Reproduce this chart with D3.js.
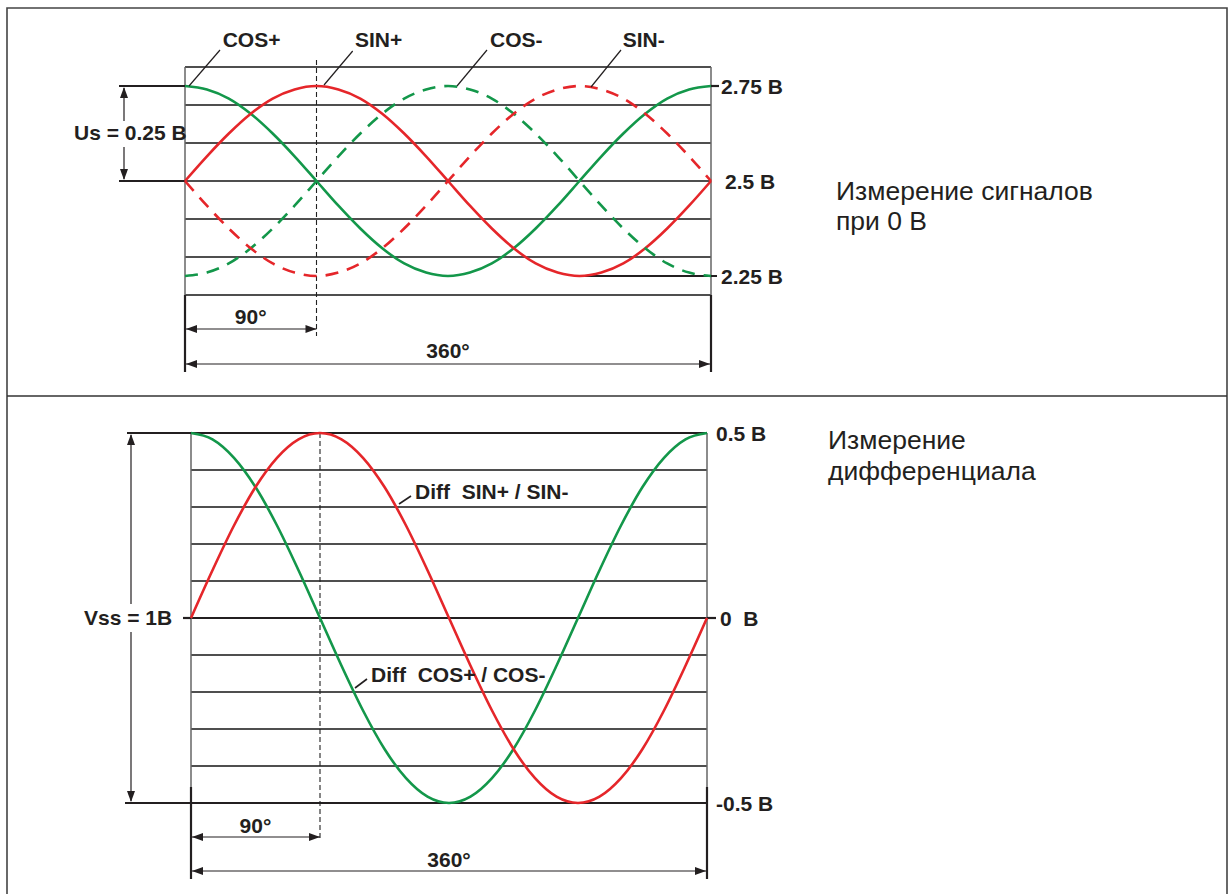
<!DOCTYPE html>
<html>
<head>
<meta charset="utf-8">
<script src="https://cdn.jsdelivr.net/npm/d3@7"></script>
<style>
  html, body { margin: 0; padding: 0; background: #fff; }
  svg { display: block; }
  .lbl { font-family: "Liberation Sans", Arial, sans-serif; font-weight: bold; font-size: 21px; fill: #231f20; white-space: pre; }
  .note { font-family: "Liberation Sans", Arial, sans-serif; font-size: 26.5px; fill: #231f20; }
</style>
</head>
<body>
<script>
// Phase angles (degrees) at which the signals are sampled
const angles = [0, 15, 30, 45, 60, 75, 90, 105, 120, 135, 150, 165, 180,
                195, 210, 225, 240, 255, 270, 285, 300, 315, 330, 345, 360];

// Single-ended encoder signals, volts
const cosPlus  = [2.75, 2.741, 2.717, 2.677, 2.625, 2.565, 2.5, 2.435, 2.375, 2.323, 2.283, 2.259, 2.25,
                  2.259, 2.283, 2.323, 2.375, 2.435, 2.5, 2.565, 2.625, 2.677, 2.717, 2.741, 2.75];
const sinPlus  = [2.5, 2.565, 2.625, 2.677, 2.717, 2.741, 2.75, 2.741, 2.717, 2.677, 2.625, 2.565, 2.5,
                  2.435, 2.375, 2.323, 2.283, 2.259, 2.25, 2.259, 2.283, 2.323, 2.375, 2.435, 2.5];
const cosMinus = [2.25, 2.259, 2.283, 2.323, 2.375, 2.435, 2.5, 2.565, 2.625, 2.677, 2.717, 2.741, 2.75,
                  2.741, 2.717, 2.677, 2.625, 2.565, 2.5, 2.435, 2.375, 2.323, 2.283, 2.259, 2.25];
const sinMinus = [2.5, 2.435, 2.375, 2.323, 2.283, 2.259, 2.25, 2.259, 2.283, 2.323, 2.375, 2.435, 2.5,
                  2.565, 2.625, 2.677, 2.717, 2.741, 2.75, 2.741, 2.717, 2.677, 2.625, 2.565, 2.5];

// Differential signals, volts
const diffCos = [0.5, 0.483, 0.433, 0.354, 0.25, 0.129, 0, -0.129, -0.25, -0.354, -0.433, -0.483, -0.5,
                 -0.483, -0.433, -0.354, -0.25, -0.129, 0, 0.129, 0.25, 0.354, 0.433, 0.483, 0.5];
const diffSin = [0, 0.129, 0.25, 0.354, 0.433, 0.483, 0.5, 0.483, 0.433, 0.354, 0.25, 0.129, 0,
                 -0.129, -0.25, -0.354, -0.433, -0.483, -0.5, -0.483, -0.433, -0.354, -0.25, -0.129, 0];

// Grid levels and value labels
const topGrid = [2.2, 2.3, 2.4, 2.5, 2.6, 2.7, 2.8];
const topTicks = [{v: 2.75, t: "2.75 B"}, {v: 2.5, t: "2.5 B"}, {v: 2.25, t: "2.25 B"}];
const botGrid = [-0.5, -0.4, -0.3, -0.2, -0.1, 0, 0.1, 0.2, 0.3, 0.4, 0.5];
const botTicks = [{v: 0.5, t: "0.5 B"}, {v: 0, t: "0  B"}, {v: -0.5, t: "-0.5 B"}];
const topNames = ["COS+", "SIN+", "COS-", "SIN-"];
const botNames = ["Diff  SIN+ / SIN-", "Diff  COS+ / COS-"];

const GREEN = "#13974a", RED = "#e5262a", INK = "#231f20";

const svg = d3.select("body").append("svg").attr("width", 1229).attr("height", 894);

// outer frame and divider
svg.append("path").attr("d", "M7,894 V8 H1227 V894").attr("fill", "none")
  .attr("stroke", "#444").attr("stroke-width", 1.6);
svg.append("line").attr("x1", 7).attr("x2", 1227).attr("y1", 396).attr("y2", 396)
  .attr("stroke", "#333").attr("stroke-width", 1.4);

function arrowHead(g, x, y, dir) {
  // tip at (x,y), pointing in direction dir
  const L = 11, W = 4;
  let p;
  if (dir === "r") p = [[x, y], [x - L, y - W], [x - L, y + W]];
  if (dir === "l") p = [[x, y], [x + L, y - W], [x + L, y + W]];
  if (dir === "u") p = [[x, y], [x - W, y + L], [x + W, y + L]];
  if (dir === "d") p = [[x, y], [x - W, y - L], [x + W, y - L]];
  g.append("path").attr("d", "M" + p.map(d => d.join(",")).join("L") + "Z").attr("fill", INK);
}
function hArrow(g, x0, x1, y) {
  g.append("line").attr("x1", x0).attr("x2", x1).attr("y1", y).attr("y2", y)
    .attr("stroke", INK).attr("stroke-width", 1.2);
  arrowHead(g, x0, y, "l"); arrowHead(g, x1, y, "r");
}
function line(g, x1, y1, x2, y2, w, c, dash) {
  const l = g.append("line").attr("x1", x1).attr("y1", y1).attr("x2", x2).attr("y2", y2)
    .attr("stroke", c || INK).attr("stroke-width", w);
  if (dash) l.attr("stroke-dasharray", dash);
  return l;
}

// ---------------- top panel: single-ended signals ----------------
{
  const g = svg.append("g");
  const x = d3.scaleLinear().domain([0, 360]).range([185, 711]);
  const y = d3.scaleLinear().domain([2.2, 2.8]).range([295, 67]);

  topGrid.forEach(v => line(g, x(0), y(v), x(360), y(v), v === 2.5 ? 1.7 : 1.4, "#151515"));
  line(g, x(0), y(2.8), x(0), y(2.2), 1.5, "#666");
  line(g, x(360), y(2.8), x(360), y(2.2), 1.5, "#666");

  // extension lines below the grid
  line(g, x(0), y(2.2), x(0), 372, 2.2);
  line(g, x(360), y(2.2), x(360), 372, 2.2);

  // reference levels
  line(g, 119, y(2.75), x(0), y(2.75), 2.2);
  line(g, 119, y(2.5), x(0), y(2.5), 2.2);
  line(g, x(360), y(2.75), x(360) + 8, y(2.75), 2.2);
  line(g, x(270), y(2.25), x(360) + 6, y(2.25), 2.2);

  // 90° marker
  line(g, x(90), 60, x(90), 336, 1.1, "#222", "5,3");

  const lineGen = vals => d3.line().x((d, i) => x(angles[i])).y(d => y(d)).curve(d3.curveMonotoneX)(vals);
  const series = [
    {v: cosPlus, c: GREEN, dash: null},
    {v: sinPlus, c: RED, dash: null},
    {v: cosMinus, c: GREEN, dash: "13,9"},
    {v: sinMinus, c: RED, dash: "13,9"}
  ];
  series.forEach(s => {
    const p = g.append("path").attr("d", lineGen(s.v)).attr("fill", "none")
      .attr("stroke", s.c).attr("stroke-width", 2.6);
    if (s.dash) p.attr("stroke-dasharray", s.dash);
  });

  // Us arrow
  const ax = 124;
  line(g, ax, y(2.75) + 2, ax, 121, 1.2);
  line(g, ax, 147, ax, y(2.5) - 2, 1.2);
  arrowHead(g, ax, y(2.75) + 1, "u");
  arrowHead(g, ax, y(2.5) - 1, "d");
  g.append("text").attr("class", "lbl").attr("x", 74).attr("y", 140).text("Us = 0.25 B");

  // series labels with leaders
  const leaders = [[189, 86, 220, 50, 222.7], [324, 85, 352.7, 51, 355], [457, 86, 487, 50, 490], [591, 87, 621, 50, 622.7]];
  leaders.forEach((d, i) => {
    line(g, d[0], d[1], d[2], d[3], 1.2);
    g.append("text").attr("class", "lbl").attr("x", d[4]).attr("y", 47).text(topNames[i]);
  });

  // value labels
  topTicks.forEach(t => {
    g.append("text").attr("class", "lbl").attr("x", t.v === 2.5 ? 725 : 721).attr("y", y(t.v) + 7.5).text(t.t);
  });

  // angle spans
  hArrow(g, x(0) + 1, x(90), 329);
  g.append("text").attr("class", "lbl").attr("x", (x(0) + x(90)) / 2).attr("y", 324)
    .attr("text-anchor", "middle").text("90°");
  hArrow(g, x(0) + 1, x(360) - 1, 364);
  g.append("text").attr("class", "lbl").attr("x", x(180)).attr("y", 358)
    .attr("text-anchor", "middle").text("360°");

  g.append("text").attr("class", "note").attr("x", 836).attr("y", 200).text("Измерение сигналов");
  g.append("text").attr("class", "note").attr("x", 836).attr("y", 230).text("при 0 В");
}

// ---------------- bottom panel: differential signals ----------------
{
  const g = svg.append("g");
  const x = d3.scaleLinear().domain([0, 360]).range([191, 707]);
  const y = d3.scaleLinear().domain([-0.5, 0.5]).range([803, 433]);

  botGrid.forEach(v => {
    const edge = (v === 0.5 || v === -0.5 || v === 0);
    line(g, x(0), y(v), x(360), y(v), edge ? 2 : 1.4, edge ? INK : "#151515");
  });
  line(g, x(0), y(0.5), x(0), y(-0.5), 1.5, "#666");
  line(g, x(360), y(0.5), x(360), y(-0.5), 1.5, "#666");

  line(g, x(0), 787, x(0), 879, 2.2);
  line(g, x(360), 787, x(360), 879, 2.2);

  line(g, 127, y(0.5), x(0), y(0.5), 2.2);
  line(g, 183, y(0), x(0), y(0), 2.2);
  line(g, 125, y(-0.5), x(0), y(-0.5), 2.2);
  line(g, x(360), y(0), x(360) + 9, y(0), 2.2);

  line(g, x(90), y(0.5), x(90), 840, 1.1, "#222", "5,3");

  const lineGen = vals => d3.line().x((d, i) => x(angles[i])).y(d => y(d)).curve(d3.curveMonotoneX)(vals);
  g.append("path").attr("d", lineGen(diffCos)).attr("fill", "none").attr("stroke", GREEN).attr("stroke-width", 2.6);
  g.append("path").attr("d", lineGen(diffSin)).attr("fill", "none").attr("stroke", RED).attr("stroke-width", 2.6);

  // Vss arrow
  const ax = 131;
  line(g, ax, y(0.5) + 2, ax, 604, 1.2);
  line(g, ax, 632, ax, y(-0.5) - 2, 1.2);
  arrowHead(g, ax, y(0.5) + 1, "u");
  arrowHead(g, ax, y(-0.5) - 1, "d");
  g.append("text").attr("class", "lbl").attr("x", 84).attr("y", 625).text("Vss = 1B");

  // curve labels
  line(g, 399, 504, 411, 496, 1.6);
  g.append("text").attr("class", "lbl").attr("x", 415).attr("y", 498.5).text(botNames[0]);
  line(g, 355, 688, 367, 679, 1.6);
  g.append("text").attr("class", "lbl").attr("x", 371).attr("y", 682).text(botNames[1]);

  botTicks.forEach(t => {
    g.append("text").attr("class", "lbl").attr("x", t.v === 0 ? 720 : 716).attr("y", y(t.v) + 7.5).text(t.t);
  });

  hArrow(g, x(0) + 1, x(90), 837);
  g.append("text").attr("class", "lbl").attr("x", (x(0) + x(90)) / 2).attr("y", 833)
    .attr("text-anchor", "middle").text("90°");
  hArrow(g, x(0) + 1, x(360) - 1, 871);
  g.append("text").attr("class", "lbl").attr("x", x(180)).attr("y", 866.5)
    .attr("text-anchor", "middle").text("360°");

  g.append("text").attr("class", "note").attr("x", 828).attr("y", 449).text("Измерение");
  g.append("text").attr("class", "note").attr("x", 828).attr("y", 480).text("дифференциала");
}
</script>
</body>
</html>
